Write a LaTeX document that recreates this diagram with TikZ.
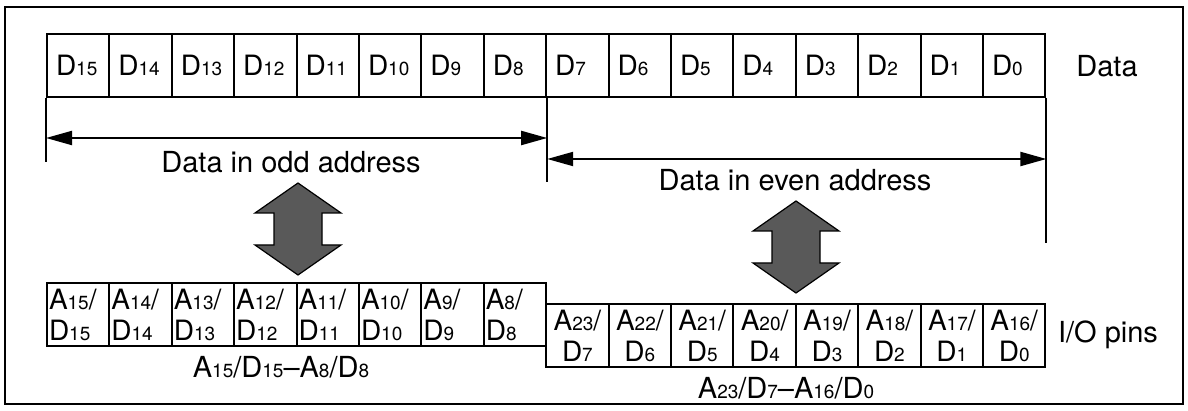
\documentclass[tikz,border=0pt]{standalone}
\usepackage{fontspec}
\setmainfont{TeX Gyre Heros}
\usetikzlibrary{arrows.meta}
\newcommand{\lo}[1]{{\fontsize{9.5}{9.5}\selectfont #1}}
\tikzset{
	dcell/.style={draw, line width=1pt, minimum width=31.2pt, minimum height=31.5pt, inner xsep=4.5pt, inner ysep=0pt, text width=22.2pt, align=left, font=\fontsize{14}{15.5}\selectfont},
	pcell/.style={draw, line width=1pt, minimum width=31.2pt, minimum height=31.5pt, inner xsep=1pt, inner ysep=0pt, text width=29.2pt, font=\fontsize{14}{15.5}\selectfont},
	updown/.pic={\filldraw[fill=black!65, draw=black, line width=0.6pt] (0,-46) -- (43,-16) -- (24,-16) -- (24,16) -- (43,16) -- (0,46) -- (-43,16) -- (-24,16) -- (-24,-16) -- (-43,-16) -- cycle;}
}
\begin{document}
\begin{tikzpicture}[x=0.5pt, y=-0.5pt, font=\fontsize{14.5}{16}\selectfont, line join=miter, >={Triangle[length=13pt,width=7pt]}]
	\useasboundingbox (0,0) rectangle (1188,411);
	\draw[line width=1pt] (5,7) rectangle (1183,404);
	% data bits
	\foreach \k in {0,...,15} {
		\pgfmathtruncatemacro\i{15-\k}
		\node[dcell] (d\i) at (78.2+62.4*\k,65.5) {D\lo{\i}};
	}
	\node (data) at (1107,66) {Data};
	% odd / even ranges
	\draw[line width=1pt] (d15.south west) -- (d15.south west |- 0,162);
	\draw[line width=1pt] (d8.south east) -- (d8.south east |- 0,182);
	\draw[line width=1pt] (d0.south east) -- (d0.south east |- 0,243);
	\draw[<->, line width=1pt] (d15.south west |- 0,138) -- (d8.south east |- 0,138);
	\draw[<->, line width=1pt] (d8.south east |- 0,159) -- (d0.south east |- 0,159);
	\node (odd) at (291,162) {Data in odd address};
	\node (even) at (795,180) {Data in even address};
	\pic at (298,229) {updown};
	\pic at (796,247) {updown};
	% I/O pins
	\foreach \k in {0,...,7} {
		\pgfmathtruncatemacro\i{15-\k}
		\node[pcell, align=left] (p\i) at (78.2+62.4*\k,314.5) {A\lo{\i}/\\D\lo{\i}};
	}
	\foreach \k in {8,...,15} {
		\pgfmathtruncatemacro\i{15-\k}
		\pgfmathtruncatemacro\a{31-\k}
		\node[pcell, align=center] (p\i) at (78.2+62.4*\k,335.5) {A\lo{\a}/\\D\lo{\i}};
	}
	\node (pins) at (1108,335) {I/O pins};
	\node (hi) at (281,367) {A\lo{15}/D\lo{15}--A\lo{8}/D\lo{8}};
	\node (lo) at (786,388) {A\lo{23}/D\lo{7}--A\lo{16}/D\lo{0}};
\end{tikzpicture}
\end{document}
